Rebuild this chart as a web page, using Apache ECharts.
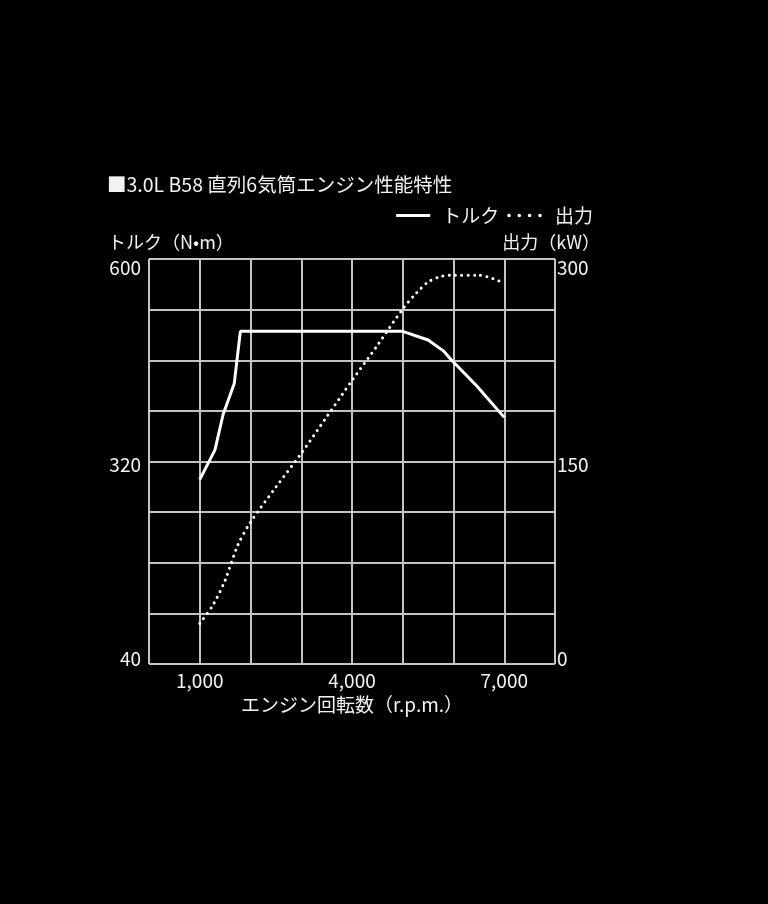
<!DOCTYPE html>
<html>
<head>
<meta charset="utf-8">
<script src="https://cdn.jsdelivr.net/npm/echarts@6/dist/echarts.min.js"></script>
<style>
html,body{margin:0;padding:0;background:#000;}
#c{width:768px;height:904px;}
</style>
</head>
<body>
<div id="c"></div>
<script>
// ---- data ----
const torqueRpm = [1000, 1300, 1460, 1680, 1800, 5000, 5500, 5800, 5950, 6450, 7000];
const torqueNm  = [295, 336, 385, 428, 500, 500, 488, 473, 461, 425, 381];
const powerRpm  = [1000, 1250, 1500, 1750, 2000, 2500, 3000, 3500, 4000, 4500, 5000, 5250, 5500, 5750, 6000, 6500, 7000];
const powerKw   = [30, 43, 62, 88, 105, 131, 156, 183, 210, 236, 263, 274, 283, 287, 288, 288, 282];
const xTickLabels = [1000, 4000, 7000];
const leftTickLabels = [600, 320, 40];
const rightTickLabels = [300, 150, 0];

const FONT = '"Noto Sans CJK JP", "Noto Sans", sans-serif';
const TXT = '#f2f2f2';
const GRID = '#c4c4c4';
const FS = 19;

const torqueData = torqueRpm.map((r, i) => [r, torqueNm[i]]);
const powerData = powerRpm.map((r, i) => [r, powerKw[i]]);

function richSet() {
  return {
    top: { fontFamily: FONT, color: TXT, fontSize: FS, padding: [18, 0, 0, 0] },
    mid: { fontFamily: FONT, color: TXT, fontSize: FS, padding: [7, 0, 0, 0] },
    bot: { fontFamily: FONT, color: TXT, fontSize: FS, padding: [0, 0, 10, 0] }
  };
}

const chart = echarts.init(document.getElementById('c'));
chart.setOption({
  backgroundColor: '#000',
  animation: false,
  textStyle: { fontFamily: FONT, color: TXT },
  title: [
    { text: '■3.0L B58 直列6気筒エンジン性能特性', left: 107, top: 175, padding: 0,
      textStyle: { fontFamily: FONT, color: TXT, fontSize: 19.5, fontWeight: 'normal' } },
    { text: 'トルク（N•m）', left: 108, top: 233, padding: 0,
      textStyle: { fontFamily: FONT, color: TXT, fontSize: 18, fontWeight: 'normal' } },
    { text: '出力（kW）', right: 168, top: 233, padding: 0,
      textStyle: { fontFamily: FONT, color: TXT, fontSize: 18, fontWeight: 'normal' } }
  ],
  legend: {
    right: 175, top: 206, itemWidth: 34, itemHeight: 14, itemGap: 8, padding: 0,
    textStyle: { fontFamily: FONT, color: TXT, fontSize: 19, padding: [0, 0, 0, 7] },
    data: [
      { name: 'トルク', itemStyle: { opacity: 0 },
        lineStyle: { color: '#fff', width: 3.2, type: 'solid' } },
      { name: '出力', itemStyle: { opacity: 0 },
        lineStyle: { color: '#fff', width: 3.6, type: [0.01, 10.3], cap: 'round' } }
    ]
  },
  grid: { left: 149, right: 213, top: 259, bottom: 240, containLabel: false },
  xAxis: {
    type: 'value', min: 0, max: 8000, interval: 1000,
    name: 'エンジン回転数（r.p.m.）', nameLocation: 'middle', nameGap: 31,
    nameTextStyle: { fontFamily: FONT, color: TXT, fontSize: FS },
    axisLine: { show: false }, axisTick: { show: false },
    axisLabel: {
      fontFamily: FONT, color: TXT, fontSize: FS, margin: 7,
      formatter: v => xTickLabels.includes(v) ? v.toLocaleString('en-US') : ''
    },
    splitLine: { show: true, lineStyle: { color: GRID, width: 2 } }
  },
  yAxis: [
    {
      type: 'value', min: 40, max: 600, interval: 70,
      axisLine: { show: false }, axisTick: { show: false },
      axisLabel: {
        fontFamily: FONT, color: TXT, fontSize: FS, margin: 8,
        formatter: v => {
          if (!leftTickLabels.includes(v)) return '';
          if (v === 600) return '{top|' + v + '}';
          if (v === 40) return '{bot|' + v + '}';
          return '{mid|' + v + '}';
        },
        rich: richSet()
      },
      splitLine: { show: true, lineStyle: { color: GRID, width: 2 } }
    },
    {
      type: 'value', min: 0, max: 300, interval: 37.5, position: 'right',
      axisLine: { show: false }, axisTick: { show: false },
      axisLabel: {
        fontFamily: FONT, color: TXT, fontSize: FS, margin: 2,
        formatter: v => {
          if (!rightTickLabels.includes(v)) return '';
          if (v === 300) return '{top|' + v + '}';
          if (v === 0) return '{bot|' + v + '}';
          return '{mid|' + v + '}';
        },
        rich: richSet()
      },
      splitLine: { show: false }
    }
  ],
  series: [
    {
      name: 'トルク', type: 'line', yAxisIndex: 0, data: torqueData,
      symbol: 'none', smooth: false,
      lineStyle: { color: '#fff', width: 3 }, itemStyle: { color: '#fff' }, z: 3
    },
    {
      name: '出力', type: 'line', yAxisIndex: 1, data: powerData,
      symbol: 'none', smooth: 0.3,
      lineStyle: { color: '#fff', width: 3, type: [0.01, 6.3], cap: 'round' },
      itemStyle: { color: '#fff' }, z: 3
    }
  ]
});
</script>
</body>
</html>
